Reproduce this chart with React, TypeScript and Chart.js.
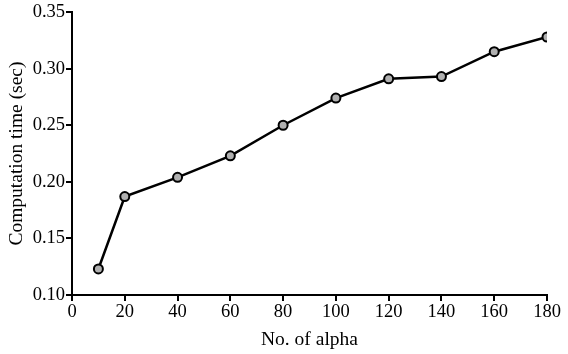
import React, { useEffect, useRef } from "react";
import { Chart, registerables } from "chart.js";

Chart.register(...registerables);

const alphaCounts = [10, 20, 40, 60, 80, 100, 120, 140, 160, 180];
const computationTimes = [0.123, 0.187, 0.204, 0.223, 0.250, 0.274, 0.291, 0.293, 0.315, 0.328];
const xTicks = [0, 20, 40, 60, 80, 100, 120, 140, 160, 180];
const yTicks = [0.10, 0.15, 0.20, 0.25, 0.30, 0.35];

export default function App() {
  const ref = useRef<HTMLCanvasElement>(null);
  useEffect(() => {
    document.body.style.margin = "0";
    const ctx = ref.current!;
    const family = "'Liberation Serif', 'Times New Roman', serif";
    const tickFont = { family, size: 18.5 };
    const titleFont = { family, size: 19.5 };
    const chart = new Chart(ctx, {
      type: "scatter",
      data: {
        datasets: [
          {
            data: alphaCounts.map((x, i) => ({ x, y: computationTimes[i] })),
            showLine: true,
            borderColor: "#000",
            borderWidth: 2.5,
            pointBackgroundColor: "#b0b0b0",
            pointBorderColor: "#000",
            pointBorderWidth: 2,
            pointRadius: 4.5,
          },
        ],
      },
      options: {
        animation: false,
        responsive: false,
        layout: { padding: { top: 11, right: 21, left: 0, bottom: 0 } },
        plugins: { legend: { display: false }, tooltip: { enabled: false } },
        scales: {
          x: {
            type: "linear",
            min: 0,
            max: 180,
            afterBuildTicks: (s: any) => {
              s.ticks = xTicks.map((v) => ({ value: v }));
            },
            afterFit: (s: any) => {
              s.height = 59;
            },
            grid: { drawOnChartArea: false, tickLength: 6, color: "#000", lineWidth: 2 },
            border: { color: "#000", width: 2 },
            ticks: { color: "#000", font: tickFont, padding: 0, maxRotation: 0 },
            title: { display: true, text: "No. of alpha", color: "#000", font: titleFont, padding: { top: 0, bottom: 2 } },
          },
          y: {
            min: 0.1,
            max: 0.35,
            afterBuildTicks: (s: any) => {
              s.ticks = yTicks.map((v) => ({ value: v }));
            },
            afterFit: (s: any) => {
              s.width = 72;
            },
            grid: { drawOnChartArea: false, tickLength: 6, color: "#000", lineWidth: 2 },
            border: { color: "#000", width: 2 },
            ticks: {
              color: "#000",
              font: tickFont,
              padding: 1,
              callback: (v: any) => Number(v).toFixed(2),
            },
            title: { display: true, text: "Computation time (sec)", color: "#000", font: titleFont, padding: { top: 5, bottom: 0 } },
          },
        },
      },
    });
    return () => chart.destroy();
  }, []);
  return <canvas ref={ref} width={568} height={354} style={{ display: "block" }} />;
}
